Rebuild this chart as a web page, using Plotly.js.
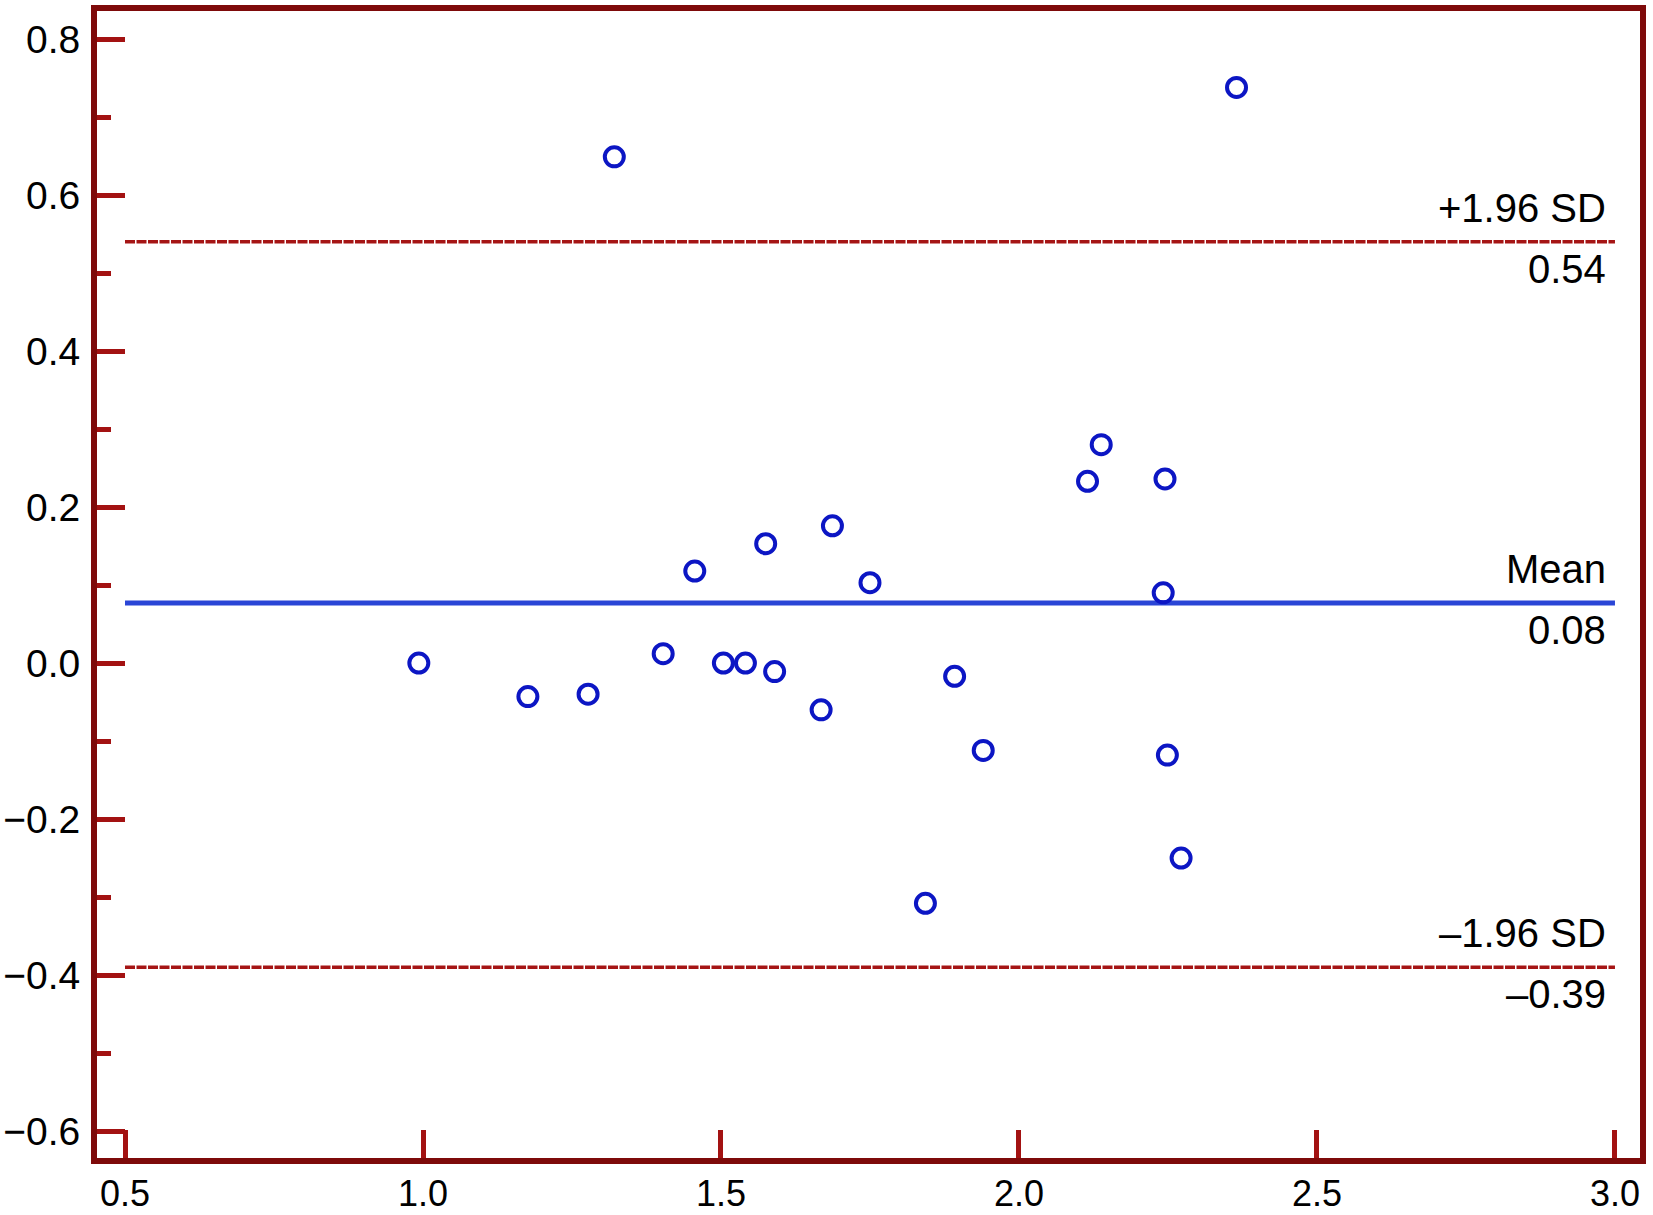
<!DOCTYPE html>
<html>
<head>
<meta charset="utf-8">
<script src="https://cdn.plot.ly/plotly-3.0.1.min.js"></script>
<style>html,body{margin:0;padding:0;background:#fff;}</style>
</head>
<body>
<div id="chart" style="width:1653px;height:1215px;"></div>
<script>
// Bland-Altman data: mean of two measurements (x) vs difference (y)
const meanValues = [1.321, 2.365, 0.993, 1.176, 1.277, 1.403, 1.456, 1.504, 1.541, 1.575,
                    1.590, 1.668, 1.687, 1.750, 1.843, 1.892, 1.940, 2.115, 2.138, 2.245,
                    2.242, 2.249, 2.272];
const diffValues = [0.649, 0.738, 0.000, -0.043, -0.040, 0.012, 0.118, 0.000, 0.000, 0.153,
                    -0.011, -0.060, 0.176, 0.103, -0.308, -0.017, -0.112, 0.233, 0.280, 0.236,
                    0.090, -0.118, -0.250];

// Reference lines: upper limit, mean difference, lower limit
const limitNames = ["+1.96 SD", "Mean", "\u20131.96 SD"];
const limitValues = [0.54, 0.077, -0.39];
const limitLabels = ["0.54", "0.08", "\u20130.39"];
const lineXExtent = [0.5, 3.0];

const xTickValues = [0.5, 1.0, 1.5, 2.0, 2.5, 3.0];
const yTickValues = [0.8, 0.6, 0.4, 0.2, 0.0, -0.2, -0.4, -0.6];

const FONT = "Liberation Sans, Arial, Helvetica, sans-serif";
const FRAME = "#7e0a0a";
const TICK = "#a31212";
const RED_LINE = "#a51515";
const BLUE_LINE = "#2a45d6";
const POINT = "#0c16c4";

const traces = [];
limitValues.forEach((v, i) => {
  const isMean = i === 1;
  traces.push({
    type: "scatter", mode: "lines",
    x: lineXExtent, y: [v, v],
    line: isMean ? {color: BLUE_LINE, width: 5} : {color: RED_LINE, width: 3.5, dash: "10px,1.5px"},
    hoverinfo: "skip", showlegend: false
  });
});
traces.push({
  type: "scatter", mode: "markers",
  x: meanValues, y: diffValues,
  marker: {symbol: "circle-open", size: 19, color: POINT, line: {color: POINT, width: 4}},
  showlegend: false
});

const annotations = [];
limitValues.forEach((v, i) => {
  annotations.push({
    x: lineXExtent[1], y: v, xref: "x", yref: "y",
    text: limitNames[i], showarrow: false,
    xanchor: "right", yanchor: "bottom", xshift: -7, yshift: 10,
    font: {family: FONT, size: 40, color: "#000"}
  });
  annotations.push({
    x: lineXExtent[1], y: v, xref: "x", yref: "y",
    text: limitLabels[i], showarrow: false,
    xanchor: "right", yanchor: "top", xshift: -7, yshift: -3,
    font: {family: FONT, size: 40, color: "#000"}
  });
});

const layout = {
  width: 1653, height: 1215,
  margin: {l: 97, r: 13, t: 11, b: 57, pad: 0},
  paper_bgcolor: "#fff", plot_bgcolor: "#fff",
  showlegend: false,
  font: {family: FONT, size: 39, color: "#000"},
  xaxis: {
    range: [0.453, 3.042], autorange: false,
    tickmode: "array", tickvals: xTickValues, tickformat: ".1f",
    ticks: "inside", ticklen: 28, tickwidth: 5, tickcolor: TICK,
    ticklabelstandoff: -1,
    showline: true, linecolor: FRAME, linewidth: 6, mirror: true,
    showgrid: false, zeroline: false,
    tickfont: {family: FONT, size: 36, color: "#000"}
  },
  yaxis: {
    range: [-0.6346, 0.836], autorange: false,
    tickmode: "array", tickvals: yTickValues, tickformat: ".1f",
    ticks: "inside", ticklen: 28, tickwidth: 5, tickcolor: TICK,
    ticklabelstandoff: 3,
    minor: {tickmode: "linear", tick0: 0.1, dtick: 0.2, ticks: "inside", ticklen: 14, tickwidth: 5, tickcolor: TICK, showgrid: false},
    showline: true, linecolor: FRAME, linewidth: 6, mirror: true,
    showgrid: false, zeroline: false,
    tickfont: {family: FONT, size: 39, color: "#000"}
  },
  annotations: annotations
};

Plotly.newPlot("chart", traces, layout, {displayModeBar: false, staticPlot: true});
</script>
</body>
</html>
